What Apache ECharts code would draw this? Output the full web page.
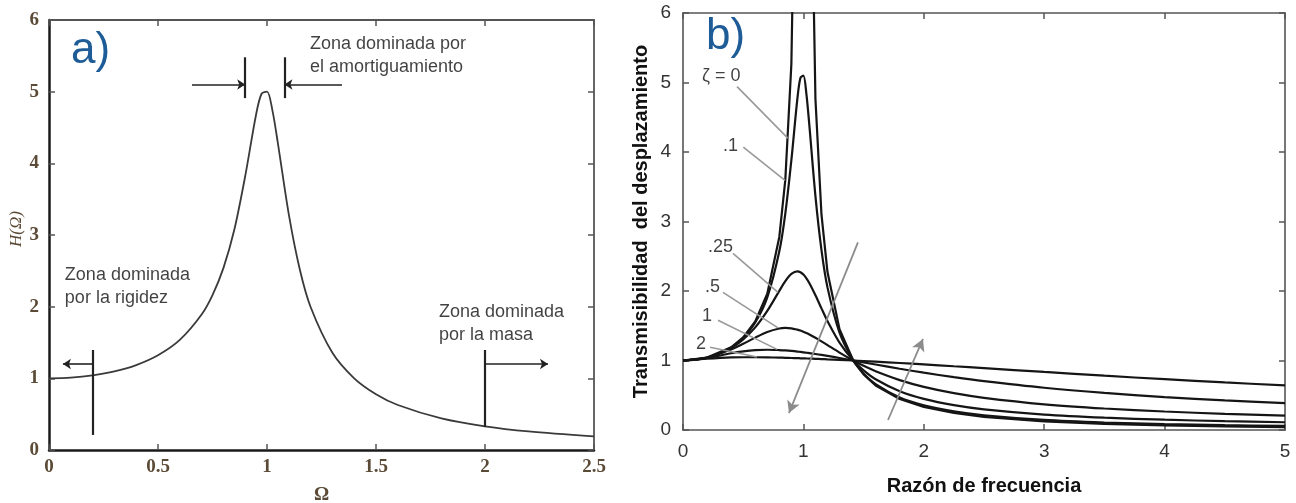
<!DOCTYPE html>
<html><head><meta charset="utf-8">
<script src="https://cdn.jsdelivr.net/npm/echarts@6/dist/echarts.min.js"></script>
<style>html,body{margin:0;padding:0;background:#fff}#c{width:1296px;height:503px}</style>
</head><body><div id="c"></div>
<script>
// ---- Panel a) : H(Omega) ----
const omega = [0, 0.1, 0.2, 0.3, 0.4, 0.5, 0.6, 0.7, 0.75, 0.8, 0.85, 0.9, 0.95, 0.975, 1.0, 1.025, 1.05, 1.1, 1.15, 1.2, 1.3, 1.4, 1.5, 1.6, 1.8, 2.0, 2.2, 2.5];
const hOmega = [1.0, 1.01, 1.041, 1.096, 1.185, 1.322, 1.536, 1.891, 2.162, 2.538, 3.073, 3.821, 4.682, 4.971, 5.0, 4.736, 4.279, 3.288, 2.525, 1.995, 1.356, 1.0, 0.778, 0.628, 0.441, 0.330, 0.259, 0.190];

// ---- Panel b) : transmissibility ----
const ratio = [0, 0.2, 0.4, 0.5, 0.6, 0.7, 0.8, 0.85, 0.9, 0.95, 0.975, 1.0, 1.025, 1.05, 1.1, 1.15, 1.2, 1.3, 1.414, 1.5, 1.6, 1.8, 2.0, 2.25, 2.5, 3.0, 3.5, 4.0, 4.5, 5.0];
const tZeta0   = [1, 1.042, 1.190, 1.333, 1.563, 1.961, 2.778, 3.604, 5.263, 10.26, 20.25, null, 19.75, 9.756, 4.762, 3.101, 2.273, 1.449, 1.0, 0.8, 0.641, 0.446, 0.333, 0.246, 0.190, 0.125, 0.0889, 0.0667, 0.0519, 0.0417];
const tZeta01  = [1, 1.042, 1.189, 1.328, 1.547, 1.909, 2.571, 3.117, 3.882, 4.767, 5.065, 5.099, 4.834, 4.373, 3.366, 2.591, 2.052, 1.401, 1.0, 0.812, 0.659, 0.468, 0.356, 0.268, 0.212, 0.145, 0.108, 0.0853, 0.0698, 0.0589];
const tZeta025 = [1, 1.041, 1.181, 1.304, 1.477, 1.713, 2.001, 2.141, 2.245, 2.283, 2.270, 2.236, 2.182, 2.111, 1.939, 1.750, 1.567, 1.258, 1.0, 0.858, 0.730, 0.557, 0.447, 0.357, 0.297, 0.2215, 0.177, 0.148, 0.127, 0.1116];
const tZeta05  = [1, 1.040, 1.158, 1.240, 1.329, 1.409, 1.460, 1.468, 1.463, 1.444, 1.431, 1.414, 1.395, 1.374, 1.327, 1.276, 1.222, 1.114, 1.0, 0.923, 0.844, 0.717, 0.620, 0.530, 0.463, 0.370, 0.309, 0.266, 0.233, 0.208];
const tZeta1   = [1, 1.036, 1.104, 1.131, 1.149, 1.155, 1.150, 1.145, 1.138, 1.129, 1.123, 1.118, 1.112, 1.106, 1.093, 1.080, 1.066, 1.036, 1.0, 0.973, 0.942, 0.881, 0.825, 0.760, 0.703, 0.608, 0.534, 0.474, 0.426, 0.387];
const tZeta2   = [1, 1.025, 1.044, 1.047, 1.047, 1.045, 1.041, 1.039, 1.036, 1.034, 1.032, 1.031, 1.029, 1.028, 1.024, 1.021, 1.017, 1.009, 1.0, 0.992, 0.983, 0.964, 0.944, 0.917, 0.890, 0.835, 0.781, 0.731, 0.684, 0.641];
const zetaSeries = [tZeta0, tZeta01, tZeta025, tZeta05, tZeta1, tZeta2];
const zetaLabels = ['ζ = 0', '.1', '.25', '.5', '1', '2'];

// annotations (data coordinates)
const annotA_text = [
  [1.197, 5.82, 'Zona dominada por\nel amortiguamiento'],
  [0.073, 2.60, 'Zona dominada\npor la rigidez'],
  [1.789, 2.085, 'Zona dominada\npor la masa']
];
const annotA_bars = [
  [[0.9, 4.91], [0.9, 5.48]], [[1.08, 4.91], [1.08, 5.48]],
  [[0.2, 0.21], [0.2, 1.395]], [[2.0, 0.32], [2.0, 1.395]]
];
const annotA_arrows = [
  [[0.656, 5.10], [0.9, 5.10]], [[1.344, 5.10], [1.08, 5.10]],
  [[0.2, 1.2], [0.064, 1.2]], [[2.0, 1.2], [2.289, 1.2]]
];
const labelPosB = [[0.158, 5.09], [0.332, 4.09], [0.208, 2.63], [0.183, 2.05], [0.158, 1.64], [0.108, 1.24]];
const leadersB = [
  [[0.449, 4.94], [0.87, 4.2]], [[0.501, 4.07], [0.847, 3.59]], [[0.415, 2.54], [0.789, 1.98]],
  [[0.332, 1.98], [0.789, 1.47]], [[0.291, 1.58], [0.781, 1.16]], [[0.224, 1.19], [0.615, 1.05]]
];
const arrowsB = [
  [[1.453, 2.70], [0.880, 0.244]], [[1.703, 0.144], [1.993, 1.31]]
];

const serif = '"Liberation Serif", "DejaVu Serif", serif';
const sans = '"Liberation Sans", Arial, sans-serif';
const serifColor = '#5b4a36';

function segs(list, withArrow) {
  return list.map(s => [
    { coord: s[0], symbol: 'none' },
    { coord: s[1], symbol: withArrow ? 'arrow' : 'none' }
  ]);
}

const chart = echarts.init(document.getElementById('c'), null, { renderer: 'canvas' });

const option = {
  animation: false,
  backgroundColor: '#fff',
  title: [
    { text: 'a)', left: 66, top: 24, textStyle: { fontFamily: sans, fontSize: 44, fontWeight: 'normal', color: '#1d5c97' } },
    { text: 'b)', left: 701, top: 10, textStyle: { fontFamily: sans, fontSize: 44, fontWeight: 'normal', color: '#1d5c97' } }
  ],
  grid: [
    { left: 49, top: 20, width: 545, height: 430, containLabel: false, outerBoundsMode: 'none' },
    { left: 683, top: 13, width: 602, height: 417, containLabel: false, outerBoundsMode: 'none' }
  ],
  xAxis: [
    { gridIndex: 0, type: 'value', min: 0, max: 2.5, interval: 0.5,
      axisLine: { show: true, onZero: false, lineStyle: { color: '#1a1a1a', width: 2.5 } },
      axisTick: { show: true, inside: true, length: 6, lineStyle: { color: '#555', width: 1.5 } },
      axisLabel: { show: true, margin: 8, fontFamily: serif, fontSize: 19, fontWeight: 'bold', color: serifColor },
      splitLine: { show: false },
      name: 'Ω', nameLocation: 'middle', nameGap: 36,
      nameTextStyle: { fontFamily: serif, fontSize: 19, fontWeight: 'bold', color: serifColor } },
    { gridIndex: 0, type: 'value', position: 'top', min: 0, max: 2.5, interval: 0.5,
      axisLine: { show: true, onZero: false, lineStyle: { color: '#555', width: 1.8 } },
      axisTick: { show: true, inside: true, length: 6, lineStyle: { color: '#555', width: 1.5 } },
      axisLabel: { show: false }, splitLine: { show: false } },
    { gridIndex: 1, type: 'value', min: 0, max: 5, interval: 1,
      axisLine: { show: true, onZero: false, lineStyle: { color: '#555', width: 1.6 } },
      axisTick: { show: true, inside: true, length: 6, lineStyle: { color: '#555', width: 1.5 } },
      axisLabel: { show: true, margin: 12, fontFamily: sans, fontSize: 19, color: '#333' },
      splitLine: { show: false },
      name: 'Razón de frecuencia', nameLocation: 'middle', nameGap: 46,
      nameTextStyle: { fontFamily: sans, fontSize: 20, fontWeight: 'bold', color: '#111' } },
    { gridIndex: 1, type: 'value', position: 'top', min: 0, max: 5, interval: 1,
      axisLine: { show: true, onZero: false, lineStyle: { color: '#555', width: 1.6 } },
      axisTick: { show: true, inside: true, length: 6, lineStyle: { color: '#555', width: 1.5 } },
      axisLabel: { show: false }, splitLine: { show: false } }
  ],
  yAxis: [
    { gridIndex: 0, type: 'value', min: 0, max: 6, interval: 1,
      axisLine: { show: true, onZero: false, lineStyle: { color: '#1a1a1a', width: 2.5 } },
      axisTick: { show: true, inside: true, length: 6, lineStyle: { color: '#555', width: 1.5 } },
      axisLabel: { show: true, margin: 10, fontFamily: serif, fontSize: 19, fontWeight: 'bold', color: serifColor },
      splitLine: { show: false },
      name: 'H(Ω)', nameLocation: 'middle', nameGap: 24, nameRotate: 90,
      nameTextStyle: { fontFamily: serif, fontSize: 17, fontStyle: 'italic', color: serifColor, padding: [0, 0, 0, 12] } },
    { gridIndex: 0, type: 'value', position: 'right', min: 0, max: 6, interval: 1,
      axisLine: { show: true, onZero: false, lineStyle: { color: '#555', width: 1.8 } },
      axisTick: { show: true, inside: true, length: 6, lineStyle: { color: '#555', width: 1.5 } },
      axisLabel: { show: false }, splitLine: { show: false } },
    { gridIndex: 1, type: 'value', min: 0, max: 6, interval: 1,
      axisLine: { show: true, onZero: false, lineStyle: { color: '#555', width: 1.6 } },
      axisTick: { show: true, inside: true, length: 6, lineStyle: { color: '#555', width: 1.5 } },
      axisLabel: { show: true, margin: 12, fontFamily: sans, fontSize: 19, color: '#333' },
      splitLine: { show: false },
      name: 'Transmisibilidad  del desplazamiento', nameLocation: 'middle', nameGap: 32, nameRotate: 90,
      nameTextStyle: { fontFamily: sans, fontSize: 20, fontWeight: 'bold', color: '#111' } },
    { gridIndex: 1, type: 'value', position: 'right', min: 0, max: 6, interval: 1,
      axisLine: { show: true, onZero: false, lineStyle: { color: '#555', width: 1.6 } },
      axisTick: { show: true, inside: true, length: 6, lineStyle: { color: '#555', width: 1.5 } },
      axisLabel: { show: false }, splitLine: { show: false } }
  ],
  series: []
};

// Panel a) curve
option.series.push({
  type: 'line', xAxisIndex: 0, yAxisIndex: 0, silent: true,
  data: omega.map((x, i) => [x, hOmega[i]]),
  showSymbol: false, smooth: 0.3, clip: true,
  lineStyle: { color: '#3a3a3a', width: 1.8 }
});
// Panel a) annotation bars and arrows
option.series.push({
  type: 'line', xAxisIndex: 0, yAxisIndex: 0, data: [], silent: true,
  markLine: {
    silent: true, animation: false, label: { show: false }, emphasis: { disabled: true },
    symbolSize: [9, 9],
    lineStyle: { color: '#222', width: 2.2, type: 'solid' },
    data: segs(annotA_bars, false)
  }
});
option.series.push({
  type: 'line', xAxisIndex: 0, yAxisIndex: 0, data: [], silent: true,
  markLine: {
    silent: true, animation: false, label: { show: false }, emphasis: { disabled: true },
    symbolSize: [8, 8],
    lineStyle: { color: '#222', width: 1.6, type: 'solid' },
    data: segs(annotA_arrows, true)
  }
});
// Panel a) texts
option.series.push({
  type: 'scatter', xAxisIndex: 0, yAxisIndex: 0, silent: true,
  symbolSize: 0.1, itemStyle: { color: 'rgba(0,0,0,0)' },
  data: annotA_text.map(t => ({ value: [t[0], t[1]], name: t[2] })),
  label: { show: true, position: [0, 0], align: 'left', verticalAlign: 'top',
    formatter: p => p.name, fontFamily: sans, fontSize: 18, lineHeight: 23, color: '#111' }
});

// Panel b) curves
zetaSeries.forEach((ys, k) => {
  option.series.push({
    type: 'line', xAxisIndex: 2, yAxisIndex: 2, silent: true, name: zetaLabels[k],
    data: ratio.map((x, i) => [x, ys[i]]),
    showSymbol: false, smooth: k === 0 ? false : 0.3, clip: true, connectNulls: false,
    lineStyle: { color: '#151515', width: 2.2 }
  });
});
// Panel b) leader lines
option.series.push({
  type: 'line', xAxisIndex: 2, yAxisIndex: 2, data: [], silent: true,
  markLine: {
    silent: true, animation: false, label: { show: false }, emphasis: { disabled: true },
    lineStyle: { color: '#999', width: 1.6, type: 'solid' },
    data: segs(leadersB, false)
  }
});
// Panel b) gray arrows
option.series.push({
  type: 'line', xAxisIndex: 2, yAxisIndex: 2, data: [], silent: true,
  markLine: {
    silent: true, animation: false, label: { show: false }, emphasis: { disabled: true },
    symbolSize: [10, 12],
    lineStyle: { color: '#8c8c8c', width: 1.8, type: 'solid' },
    data: segs(arrowsB, true)
  }
});
// Panel b) zeta labels
option.series.push({
  type: 'scatter', xAxisIndex: 2, yAxisIndex: 2, silent: true,
  symbolSize: 0.1, itemStyle: { color: 'rgba(0,0,0,0)' },
  data: labelPosB.map((p, k) => ({ value: p, name: zetaLabels[k] })),
  label: { show: true, position: [0, 0], align: 'left', verticalAlign: 'middle',
    formatter: p => p.name, fontFamily: sans, fontSize: 18, color: '#111' }
});

chart.setOption(option);
</script>
</body></html>
